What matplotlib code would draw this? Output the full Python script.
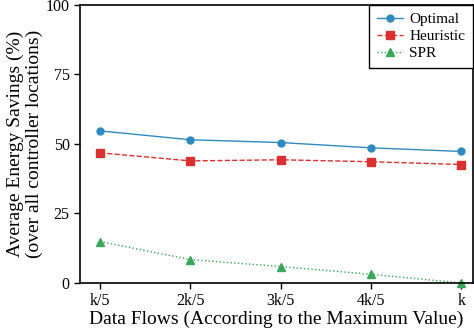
import numpy as np
import matplotlib.pyplot as plt

# data
flow_labels = ["k/5", "2k/5", "3k/5", "4k/5", "k"]
optimal = [54.7, 51.5, 50.5, 48.6, 47.3]
heuristic = [46.8, 43.9, 44.3, 43.6, 42.6]
spr = [14.9, 8.4, 5.9, 3.1, 0.0]

plt.rcParams['font.family'] = ['Liberation Serif', 'DejaVu Serif']
plt.rcParams['mathtext.fontset'] = 'stix'

fig = plt.figure(figsize=(4.74, 3.29), dpi=100)
ax = fig.add_axes([0.169, 0.14, 0.829, 0.845])

x = np.arange(len(flow_labels))
ax.plot(x, optimal, '-', marker='o', color='#2f8bbf', lw=1.0, ms=5, label='Optimal')
ax.plot(x, heuristic, '--', marker='s', color='#d93030', lw=1.0, ms=5.5, label='Heuristic')
ax.plot(x, spr, ':', marker='^', color='#3aa65a', lw=1.0, ms=6, label='SPR', clip_on=False)

ax.set_xlim(-0.22, 4.13)
ax.set_ylim(0, 100)
ax.set_xticks(x)
ax.set_xticklabels(flow_labels)
ax.set_yticks([0, 25, 50, 75, 100])
ax.tick_params(labelsize=11.5, length=4, width=1, direction='out')
for s in ax.spines.values():
    s.set_linewidth(1.2)

ax.set_xlabel('Data Flows (According to the Maximum Value)', fontsize=14, labelpad=1)
ax.set_ylabel('Average Energy Savings (%)\n(over all controller locations)', fontsize=14,
              labelpad=2, linespacing=1.12)

leg = ax.legend(loc='upper right', fontsize=11, fancybox=False, framealpha=1,
                borderaxespad=0, handlelength=1.7, borderpad=0.5, labelspacing=0.22,
                handletextpad=0.45)
leg.get_frame().set_edgecolor('black')
leg.get_frame().set_linewidth(1.0)

fig.savefig('out.png', dpi=100)
